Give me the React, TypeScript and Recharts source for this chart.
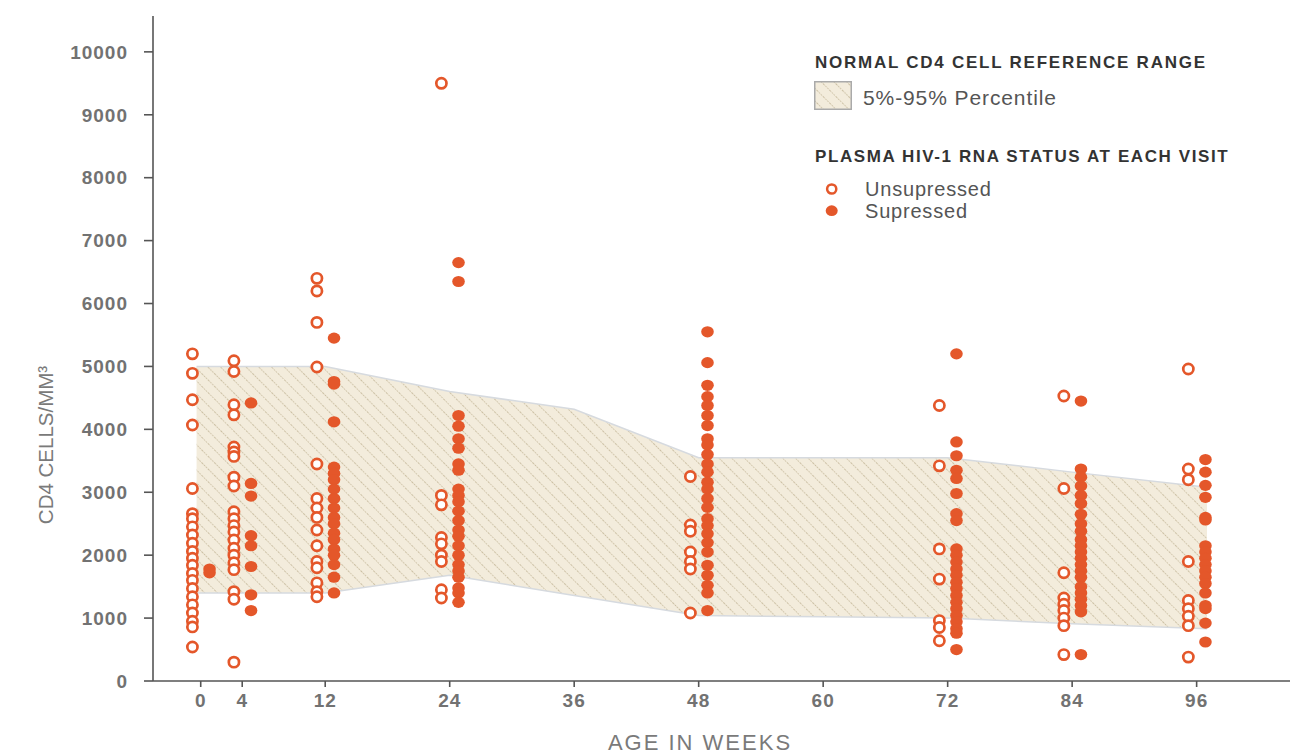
import { Area, ComposedChart, Label, Scatter, XAxis, YAxis } from 'recharts'

const FONT = '"Liberation Sans", Arial, Helvetica, sans-serif'
const ORANGE = '#e4572a'

// visit weeks and CD4 counts (cells/mm3)
const visitWeeks = [0, 4, 12, 24, 48, 72, 84, 96]

const unsuppressedByVisit: number[][] = [
   [5200, 4890, 4470, 4070, 3060, 2660, 2580, 2450, 2320, 2190, 2060, 1950, 1840, 1710, 1600, 1470, 1340, 1210, 1080, 950, 860, 540],
   [5090, 4920, 4390, 4230, 3720, 3640, 3570, 3240, 3100, 2690, 2580, 2470, 2370, 2240, 2110, 2000, 1880, 1770, 1420, 1300, 300],
   [6400, 6200, 5700, 4990, 3450, 2900, 2750, 2600, 2400, 2150, 1900, 1800, 1560, 1420, 1340],
   [9500, 2950, 2800, 2280, 2180, 2000, 1900, 1450, 1320],
   [3250, 2480, 2380, 2050, 1900, 1780, 1080],
   [4380, 3420, 2100, 1620, 960, 850, 640],
   [4530, 3060, 1720, 1320, 1220, 1120, 1000, 880, 420],
   [4960, 3370, 3200, 1900, 1280, 1150, 1030, 880, 380]
]

const suppressedByVisit: number[][] = [
   [1780, 1720],
   [4420, 3140, 2940, 2310, 2150, 1820, 1370, 1120],
   [5450, 4760, 4720, 4120, 3400, 3300, 3200, 3050, 2900, 2750, 2600, 2500, 2350, 2250, 2100, 2000, 1850, 1650, 1400],
   [6650, 6350, 4220, 4050, 3850, 3700, 3450, 3350, 3050, 2950, 2850, 2700, 2550, 2400, 2300, 2150, 2000, 1850, 1750, 1650, 1480, 1400, 1250],
   [5550, 5060, 4700, 4520, 4380, 4220, 4060, 3850, 3750, 3600, 3450, 3320, 3160, 3050, 2900, 2760, 2580, 2470, 2340, 2200, 2050, 1840, 1680, 1520, 1400, 1120],
   [5200, 3800, 3580, 3350, 3220, 2980, 2660, 2550, 2100, 2000, 1890, 1780, 1680, 1570, 1470, 1360, 1250, 1150, 1040, 940, 830, 760, 500],
   [4450, 3370, 3240, 3100, 2950, 2820, 2650, 2500, 2380, 2250, 2150, 2050, 1950, 1850, 1750, 1650, 1500, 1400, 1300, 1200, 1100, 420],
   [3520, 3320, 3110, 2920, 2600, 2560, 2150, 2050, 1950, 1850, 1750, 1650, 1550, 1400, 1200, 1150, 920, 620]
]

// normal reference range (5th - 95th percentile)
const bandWeeks = [-0.4, 4, 12, 24, 36, 48, 60, 72, 84, 97]
const band5th = [1400, 1400, 1400, 1680, 1360, 1040, 1020, 1000, 910, 830]
const band95th = [5000, 5000, 5000, 4600, 4320, 3550, 3550, 3550, 3320, 3080]

const xTicks = [0, 4, 12, 24, 36, 48, 60, 72, 84, 96]
const yTicks = [0, 1000, 2000, 3000, 4000, 5000, 6000, 7000, 8000, 9000, 10000]

const bandData = bandWeeks.map((week, i) => ({ week, range: [band5th[i], band95th[i]] }))

// the two groups sit just left / right of each visit
const openPoints = visitWeeks.flatMap((week, i) =>
   unsuppressedByVisit[i].map((cd4) => ({ week: week - 0.8, cd4 }))
)
const filledPoints = visitWeeks.flatMap((week, i) =>
   suppressedByVisit[i].map((cd4) => ({ week: week + 0.85, cd4 }))
)

const tickStyle = { fill: '#727272', fontSize: 19, fontWeight: 700, fontFamily: FONT, letterSpacing: 1 }

const OpenDot = (props: any) => (
   <circle cx={props.cx} cy={props.cy} r={5.1} fill="#fff" stroke={ORANGE} strokeWidth={2.7} />
)
const FilledDot = (props: any) => (
   <ellipse cx={props.cx} cy={props.cy} rx={6.3} ry={5.6} fill={ORANGE} />
)

function Hatch({ id }: { id: string }) {
   return (
      <pattern id={id} patternUnits="userSpaceOnUse" width={9} height={9} patternTransform="rotate(45)">
         <rect width={9} height={9} fill="#f3ecdc" />
         <line x1={0} y1={4.5} x2={9} y2={4.5} stroke="#cbbfa3" strokeWidth={1} strokeDasharray="1.5 1.2" />
      </pattern>
   )
}

export default function App() {
   return (
      <div style={{ position: 'absolute', width: 1291, height: 746, fontFamily: FONT }}>
         <ComposedChart
            width={1291}
            height={746}
            data={bandData}
            margin={{ top: 8, right: 9, bottom: 0, left: 0 }}
         >
            <defs>
               <Hatch id="hatch" />
            </defs>
            <XAxis
               dataKey="week"
               type="number"
               domain={[-4.6, 105]}
               allowDataOverflow
               ticks={xTicks}
               height={73}
               tickSize={6}
               tickMargin={7}
               tick={tickStyle}
               axisLine={{ stroke: '#555', strokeWidth: 1.6 }}
               tickLine={{ stroke: '#555', strokeWidth: 1.6 }}
            >
               <Label
                  content={() => (
                     <text
                        x={692}
                        y={742}
                        textAnchor="middle"
                        fill="#7a7a7a"
                        fontSize={22}
                        letterSpacing={2}
                        fontFamily={FONT}
                     >
                        AGE IN WEEKS
                     </text>
                  )}
               />
            </XAxis>
            <YAxis
               dataKey="cd4"
               type="number"
               domain={[0, 10570]}
               allowDataOverflow
               ticks={yTicks}
               width={145}
               tickSize={9}
               tickMargin={16}
               tick={tickStyle}
               axisLine={{ stroke: '#555', strokeWidth: 1.6 }}
               tickLine={{ stroke: '#555', strokeWidth: 1.6 }}
            >
               <Label
                  content={() => (
                     <text
                        x={45}
                        y={437}
                        transform="rotate(-90 45 437)"
                        textAnchor="middle"
                        fill="#7a7a7a"
                        fontSize={20.5}
                        fontFamily={FONT}
                     >
                        CD4 CELLS/MM³
                     </text>
                  )}
               />
            </YAxis>
            <Area
               dataKey="range"
               type="linear"
               fill="url(#hatch)"
               fillOpacity={1}
               stroke="#d6dadf"
               strokeWidth={1.5}
               isAnimationActive={false}
               activeDot={false}
            />
            <Scatter data={openPoints} dataKey="cd4" shape={OpenDot} isAnimationActive={false} />
            <Scatter data={filledPoints} dataKey="cd4" shape={FilledDot} isAnimationActive={false} />
         </ComposedChart>

         {/* legend */}
         <div style={{ position: 'absolute', left: 807, top: 46, fontSize: 17, lineHeight: 1, fontWeight: 700, color: '#333', letterSpacing: 1.75, whiteSpace: 'nowrap' }}>
            NORMAL CD4 CELL REFERENCE RANGE
         </div>
         <svg style={{ position: 'absolute', left: 806, top: 73 }} width={38} height={29}>
            <defs>
               <Hatch id="hatch-legend" />
            </defs>
            <rect x={0.75} y={0.75} width={36.5} height={27.5} fill="url(#hatch-legend)" stroke="#aaa" strokeWidth={1.5} />
         </svg>
         <div style={{ position: 'absolute', left: 855, top: 79, fontSize: 21, lineHeight: 1, color: '#555', letterSpacing: 0.9, whiteSpace: 'nowrap' }}>
            5%-95% Percentile
         </div>
         <div style={{ position: 'absolute', left: 807, top: 140, fontSize: 17, lineHeight: 1, fontWeight: 700, color: '#333', letterSpacing: 1.6, whiteSpace: 'nowrap' }}>
            PLASMA HIV-1 RNA STATUS AT EACH VISIT
         </div>
         <svg style={{ position: 'absolute', left: 816, top: 173 }} width={16} height={40}>
            <circle cx={7.7} cy={8} r={4.6} fill="#fff" stroke={ORANGE} strokeWidth={2.5} />
            <ellipse cx={7.7} cy={29.7} rx={6} ry={5.4} fill={ORANGE} />
         </svg>
         <div style={{ position: 'absolute', left: 857, top: 171, fontSize: 20, lineHeight: 1, color: '#555', letterSpacing: 0.8, whiteSpace: 'nowrap' }}>
            Unsupressed
         </div>
         <div style={{ position: 'absolute', left: 857, top: 193, fontSize: 20, lineHeight: 1, color: '#555', letterSpacing: 0.8, whiteSpace: 'nowrap' }}>
            Supressed
         </div>
      </div>
   )
}
